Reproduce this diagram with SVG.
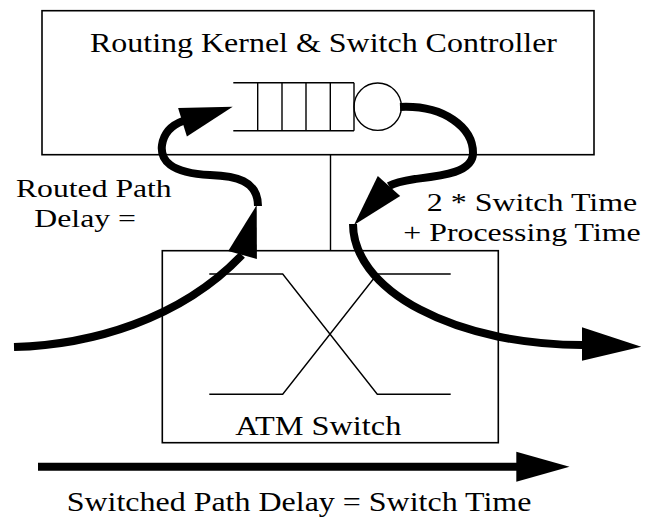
<svg xmlns="http://www.w3.org/2000/svg" width="654" height="518" viewBox="0 0 654 518">
<style>
.box{fill:none;stroke:#000;stroke-width:1.6}
.thin{fill:none;stroke:#000;stroke-width:1.4}
.heavy{fill:none;stroke:#000;stroke-width:8;stroke-linecap:butt}
.head{fill:#000;stroke:none}
.lbl{font-family:"Liberation Serif",serif;font-size:28px;fill:#000}
.two{font-family:"Liberation Serif",serif;font-size:26px;fill:#000}
</style>
<rect width="654" height="518" fill="#fff"/>
<g id="controller">
<rect class="box" x="42" y="10.7" width="552" height="144"/>
<text class="lbl" x="90" y="51.7" textLength="467" lengthAdjust="spacingAndGlyphs">Routing Kernel &amp; Switch Controller</text>
<g id="queue">
<path class="thin" d="M233.3,82.7 H354 M233.3,130.7 H354 M257.7,82.7 V130.7 M282,82.7 V130.7 M306,82.7 V130.7 M330.3,82.7 V130.7 M354,82.7 V130.7"/>
<circle class="thin" cx="377.7" cy="106.7" r="23.7"/>
</g>
</g>
<g id="atm-switch">
<rect class="box" x="162.3" y="250.7" width="336" height="192"/>
<path class="thin" d="M209.3,274 H282.7 L377.3,394.3 H450.7 M209.3,394.3 H282.7 L377.3,274 H450.7"/>
<text class="lbl" x="235.3" y="435" textLength="166" lengthAdjust="spacingAndGlyphs">ATM Switch</text>
</g>
<g id="connectors">
<line class="thin" x1="330.5" y1="154.7" x2="330.5" y2="250.7"/>
<g id="routed-in">
<path class="heavy" d="M14,347 C90,345 180,320 242,255"/>
<polygon class="head" points="256.7,205 228.2,250.9 256.9,259.1"/>
</g>
<g id="to-queue">
<path class="heavy" d="M258,206 C258,180 235,176 210,175 C170,173 160,160 162,145 C164,132 172,125 183,121"/>
<polygon class="head" points="232.7,106.7 178.1,107.9 186.9,136.5"/>
</g>
<g id="from-queue">
<path class="heavy" d="M400,107 C445,105 473,128 473,153 C473,173 440,176 415,179 C402,181 394,183 389,186"/>
<polygon class="head" points="354,225 377.8,176 400.2,196"/>
</g>
<g id="routed-out">
<path class="heavy" d="M353,224 A229,121 0 0 0 582,345"/>
<polygon class="head" points="582,327.3 641.3,346.7 582,360.7"/>
</g>
<g id="switched">
<line class="heavy" x1="38" y1="466.7" x2="517" y2="466.7"/>
<polygon class="head" points="516.3,451.7 569.5,466.7 516.3,481.7"/>
</g>
</g>
<g id="labels">
<text class="two" x="16" y="197.3" textLength="155.7" lengthAdjust="spacingAndGlyphs">Routed Path</text>
<text class="two" x="34.3" y="226.7" textLength="101.7" lengthAdjust="spacingAndGlyphs">Delay =</text>
<text class="two" x="426.7" y="211" textLength="210.6" lengthAdjust="spacingAndGlyphs">2 * Switch Time</text>
<text class="two" x="403.3" y="240.7" textLength="237.4" lengthAdjust="spacingAndGlyphs">+ Processing Time</text>
<text class="lbl" x="66.7" y="511" textLength="464.7" lengthAdjust="spacingAndGlyphs">Switched Path Delay = Switch Time</text>
</g>
</svg>
